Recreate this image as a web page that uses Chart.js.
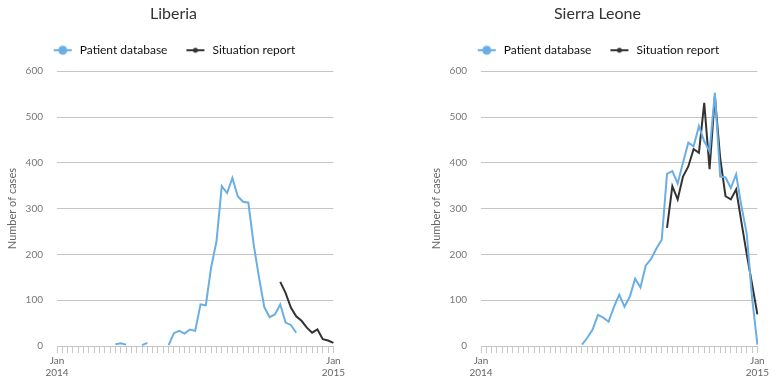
<!DOCTYPE html>
<html>
<head>
<meta charset="utf-8">
<script src="https://cdn.jsdelivr.net/npm/chart.js@4/dist/chart.umd.min.js"></script>
<style>
  body { margin: 0; background: #fff; }
  .box { position: absolute; top: 0; }
</style>
</head>
<body>
<div class="box" style="left:0px"><canvas id="liberiaChart" width="347" height="383"></canvas></div>
<div class="box" style="left:424px"><canvas id="sierraChart" width="347" height="383"></canvas></div>
<script>
// weekly points, Jan 2014 (week 0) to Jan 2015 (week 52)
var tickLabels = [];
for (var i = 0; i <= 52; i++) { tickLabels.push(''); }
tickLabels[0] = ['Jan', '2014'];
tickLabels[52] = ['Jan', '2015'];

var seriesNames = ['Patient database', 'Situation report'];

var liberiaPatient = [
  null, null, null, null, null, null, null, null, null, null,
  null, 4, 6, 3, null, null, 2, 7, null, null,
  null, 2, 28, 33, 27, 36, 33, 91, 89, 172,
  228, 349, 334, 367, 327, 315, 313, 222, 150, 85,
  63, 69, 91, 51, 46, 29, null, null, null, null,
  null, null, null
];
var liberiaSitrep = [
  null, null, null, null, null, null, null, null, null, null,
  null, null, null, null, null, null, null, null, null, null,
  null, null, null, null, null, null, null, null, null, null,
  null, null, null, null, null, null, null, null, null, null,
  null, null, 140, 116, 84, 65, 55, 40, 29, 36,
  15, 12, 7
];
var sierraPatient = [
  null, null, null, null, null, null, null, null, null, null,
  null, null, null, null, null, null, null, null, null, 3,
  18, 36, 68, 62, 53, 85, 112, 86, 108, 147,
  128, 176, 190, 213, 232, 376, 382, 355, 400, 444,
  436, 480, 447, 425, 553, 370, 368, 345, 375, 305,
  245, 105, 3
];
var sierraSitrep = [
  null, null, null, null, null, null, null, null, null, null,
  null, null, null, null, null, null, null, null, null, null,
  null, null, null, null, null, null, null, null, null, null,
  null, null, null, null, null, 258, 349, 320, 370, 392,
  430, 422, 531, 386, 545, 410, 327, 320, 342, 270,
  200, 135, 69
];

var blue = '#6aaee6';
var dark = '#333333';
var fontName = 'Lato, "Open Sans", sans-serif';

function makeMarker(color, r) {
  var c = document.createElement('canvas');
  c.width = 22; c.height = 12;
  var ctx = c.getContext('2d');
  ctx.strokeStyle = color;
  ctx.lineWidth = 2;
  ctx.beginPath();
  ctx.moveTo(2, 6); ctx.lineTo(20, 6);
  ctx.stroke();
  ctx.fillStyle = color;
  ctx.beginPath();
  ctx.arc(11, 6, r, 0, Math.PI * 2);
  ctx.fill();
  return c;
}
var markers = [makeMarker(blue, 4.5), makeMarker(dark, 2.5)];

// a little extra room under the legend
var legendGap = {
  id: 'legendGap',
  beforeInit: function(chart) {
    var fit = chart.legend.fit;
    chart.legend.fit = function() {
      fit.call(this);
      this.height += 5;
    };
  }
};

function drawChart(id, title, patient, sitrep) {
  var ctx = document.getElementById(id);
  return new Chart(ctx, {
    type: 'line',
    data: {
      labels: tickLabels,
      datasets: [
        { label: seriesNames[0], data: patient, borderColor: blue, backgroundColor: blue,
          borderWidth: 2, pointRadius: 0, spanGaps: false, tension: 0 },
        { label: seriesNames[1], data: sitrep, borderColor: dark, backgroundColor: dark,
          borderWidth: 2, pointRadius: 0, spanGaps: false, tension: 0 }
      ]
    },
    plugins: [legendGap],
    options: {
      responsive: false,
      animation: false,
      layout: { padding: { left: 0, right: 0, top: 2, bottom: 2 } },
      plugins: {
        title: {
          display: true, text: title, color: '#333',
          font: { family: fontName, size: 16, weight: 'normal' },
          padding: { top: 2, bottom: 4 }
        },
        legend: {
          display: true,
          labels: {
            usePointStyle: true, pointStyleWidth: 22,
            color: '#111', padding: 17,
            font: { family: fontName, size: 12 },
            generateLabels: function(chart) {
              var items = Chart.defaults.plugins.legend.labels.generateLabels(chart);
              items.forEach(function(it, k) { it.pointStyle = markers[k]; });
              return items;
            }
          }
        },
        tooltip: { enabled: false }
      },
      scales: {
        x: {
          offset: false,
          grid: { drawOnChartArea: false, drawTicks: true, tickLength: 7, color: '#c8c8c8' },
          border: { display: false },
          ticks: { autoSkip: false, maxRotation: 0, color: '#666', padding: 2,
                   font: { family: fontName, size: 10 } }
        },
        y: {
          min: 0, max: 600,
          afterFit: function(scale) { scale.width = 57; },
          grid: { color: '#c4c4c4', drawTicks: false },
          border: { display: false },
          ticks: { stepSize: 100, color: '#777', padding: 14,
                   font: { family: fontName, size: 10 } },
          title: { display: true, text: 'Number of cases', color: '#666',
                   font: { family: fontName, size: 11 }, padding: { top: 6, bottom: 0 } }
        }
      }
    }
  });
}

drawChart('liberiaChart', 'Liberia', liberiaPatient, liberiaSitrep);
drawChart('sierraChart', 'Sierra Leone', sierraPatient, sierraSitrep);
</script>
</body>
</html>
